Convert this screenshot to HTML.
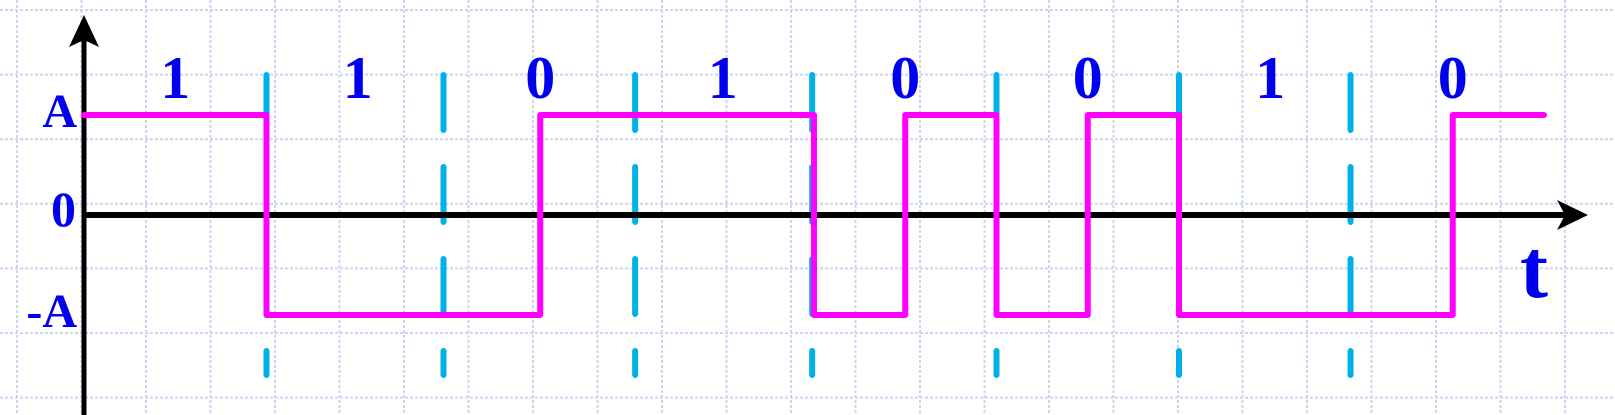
<!DOCTYPE html>
<html><head><meta charset="utf-8">
<style>
html,body{margin:0;padding:0;background:#fff;}
svg{display:block;}
text{font-family:"Liberation Serif",serif;font-weight:bold;fill:#0000ee;}
</style></head>
<body>
<svg id="chart" width="1615" height="415" viewBox="0 0 1615 415" xmlns="http://www.w3.org/2000/svg">
<g id="grid"></g>
<g id="bounds"></g>
<g id="axes">
  <line x1="84" y1="40" x2="84" y2="415" stroke="#000" stroke-width="5"/>
  <polygon points="84,15 69,47 84,40 99,47" fill="#000"/>
  <line x1="84" y1="215" x2="1565" y2="215" stroke="#000" stroke-width="6"/>
  <polygon points="1588,215 1557,200 1565,215 1557,230" fill="#000"/>
</g>
<g id="signal"></g>
<g id="labels">
  <text x="77" y="127" font-size="48" text-anchor="end">A</text>
  <text x="76" y="226" font-size="50" text-anchor="end">0</text>
  <text x="77" y="327" font-size="48" text-anchor="end">-A</text>
  <text x="1534" y="297" font-size="84" text-anchor="middle">t</text>
</g>
<g id="bits"></g>
</svg>
<script>
const bits = ["1","1","0","1","0","0","1","0"];
const edgeTimes = [0, 1, 2.5, 4, 4.5, 5, 5.5, 6, 7.5, 8];
const levels = [1, -1, 1, -1, 1, -1, 1, -1, 1];
const boundaries = [1, 1.97, 3.02, 3.99, 5.0, 6.0, 6.94];

const NS = "http://www.w3.org/2000/svg";
const x = t => 84 + t * 182.5;
const y = v => 215 - v * 100;
function mk(tag, attrs, parent){
  const e = document.createElementNS(NS, tag);
  for (const k in attrs) e.setAttribute(k, attrs[k]);
  parent.appendChild(e);
  return e;
}
// grid
const grid = document.getElementById('grid');
for (let i = 0; i < 26; i++) {
  const gx = 17 + i * 64.5;
  const l = mk('line', {x1: gx, y1: 0, x2: gx, y2: 415, stroke: '#c9d5f2', 'stroke-width': 2, 'stroke-dasharray': '3 2'}, grid);
  
  
}
for (let i = 0; i < 7; i++) {
  const gy = 10 + i * 64.6;
  const l = mk('line', {x1: 0, y1: gy, x2: 1615, y2: gy, stroke: '#c9d5f2', 'stroke-width': 2, 'stroke-dasharray': '3 2'}, grid);
  
  
}
// boundaries
const bg = document.getElementById('bounds');
boundaries.forEach(b => {
  const l = mk('line', {x1: x(b), y1: 75, x2: x(b), y2: 375, stroke: '#00b0ea', 'stroke-width': 6, 'stroke-linecap': 'round', 'stroke-dasharray': '55 37'}, bg);
  
  
});
// signal
let d = `M${x(edgeTimes[0])},${y(levels[0])}`;
for (let i = 0; i < levels.length; i++) {
  if (i > 0) d += ` L${x(edgeTimes[i])},${y(levels[i])}`;
  d += ` L${x(edgeTimes[i+1])},${y(levels[i])}`;
}
const sp = mk('path', {d: d, fill: 'none', stroke: '#ff00ff', 'stroke-width': 6, 'stroke-linejoin': 'round', 'stroke-linecap': 'round'}, document.getElementById('signal'));


// bit labels
const bl = document.getElementById('bits');
bits.forEach((b, i) => {
  const t = mk('text', {x: x(i + 0.5), y: 98, 'font-size': 60, 'text-anchor': 'middle'}, bl);
  t.textContent = b;
  
  
});
</script>
</body></html>
